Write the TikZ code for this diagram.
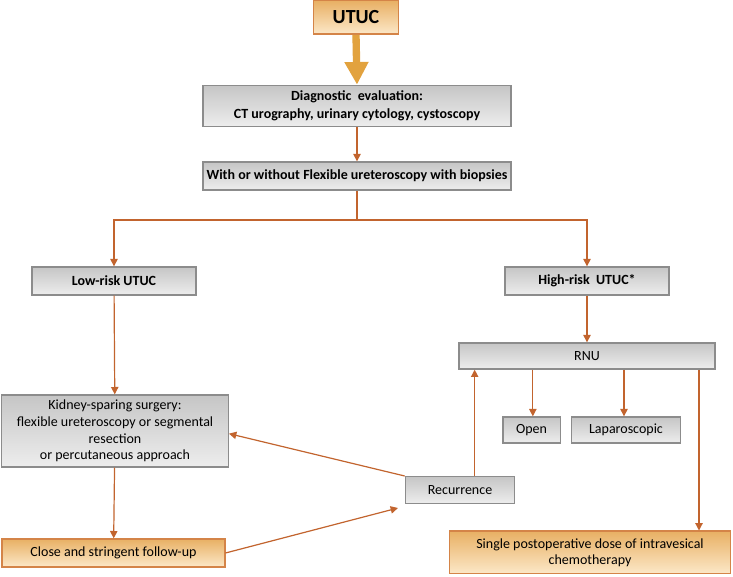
\documentclass[tikz,border=0pt]{standalone}
\usepackage{fontspec}
\setmainfont{Carlito}
\usepackage{tikz}
\usetikzlibrary{arrows.meta,positioning,calc}
\definecolor{UArrow}{RGB}{194,100,46}
\definecolor{UBig}{RGB}{226,162,62}
\definecolor{UOrgLine}{RGB}{212,132,72}
\definecolor{UOrgTop}{RGB}{232,176,100}
\definecolor{UOrgBot}{RGB}{252,232,200}
\definecolor{UGrayLine}{RGB}{140,140,140}

\tikzset{
  graybox/.style={draw=UGrayLine,line width=1pt,top color=gray!45,bottom color=gray!14,
    align=center,inner sep=1pt,font=\fontsize{10.5}{12.5}\selectfont},
  orgbox/.style={draw=UOrgLine,line width=1pt,top color=UOrgTop,bottom color=UOrgBot,
    align=center,inner sep=1pt,font=\fontsize{10.5}{12}\selectfont},
  link/.style={draw=UArrow,line width=0.9pt},
  arr/.style={link,-{Triangle[width=5.5pt,length=5.5pt]}},
  bfbox/.style={font=\fontsize{10.5}{13.5}\selectfont\bfseries},
}

\begin{document}
\begin{tikzpicture}[x=0.75pt,y=-0.75pt]
\useasboundingbox (0,0) rectangle (733,577);
% boxes
\node[orgbox,minimum width=64pt,minimum height=25pt,font=\fontsize{15}{17}\selectfont\bfseries] (utuc) at (356,17.5) {UTUC};
\node[graybox,bfbox,minimum width=231pt,minimum height=31pt] (diag) at (357,106) {Diagnostic\ \ evaluation:\\CT urography, urinary cytology, cystoscopy};
\node[graybox,bfbox,minimum width=231pt,minimum height=21pt] (flex) at (357,176) {With or without Flexible ureteroscopy with biopsies};
\node[graybox,bfbox,minimum width=123pt,minimum height=21pt] (low) at (114,281) {Low-risk UTUC};
\node[graybox,bfbox,minimum width=123pt,minimum height=21pt] (high) at (587,281) {High-risk\ \ UTUC*};
\node[graybox,minimum width=170pt,minimum height=54pt] (ksurg) at (115,431) {Kidney-sparing surgery:\\flexible ureteroscopy or segmental\\resection\\or percutaneous approach};
\node[graybox,minimum width=192pt,minimum height=19.5pt] (rnu) at (587,356) {RNU};
\node[graybox,minimum width=43pt,minimum height=19.5pt] (open) at (531.5,430) {Open};
\node[graybox,minimum width=82pt,minimum height=19.5pt] (lap) at (626,430) {Laparoscopic};
\node[graybox,minimum width=82pt,minimum height=20pt] (recur) at (460,490) {Recurrence};
\node[orgbox,minimum width=167pt,minimum height=21pt] (follow) at (113.5,553) {Close and stringent follow-up};
\node[orgbox,minimum width=211pt,minimum height=32pt] (chemo) at (590,552.5) {Single postoperative dose of intravesical\\chemotherapy};

% connectors
\draw[UBig,line width=5.5pt,-{Triangle[width=17pt,length=17pt]}] (utuc.south) -- (diag.north);
\draw[arr] (diag) -- (flex);
\coordinate (split) at (357,220);
\draw[link] (flex) -- (split);
\draw[arr] (split) -| (low);
\draw[arr] (split) -| (high);
\draw[arr] (low) -- (ksurg);
\draw[arr] (high) -- (rnu);
\draw[arr] ([xshift=1pt]open.north |- rnu.south) -- ([xshift=1pt]open.north);
\draw[arr] ([xshift=-1.5pt]lap.north |- rnu.south) -- ([xshift=-1.5pt]lap.north);
\draw[arr] ([xshift=84pt]rnu.south) -- ([xshift=84pt]rnu.south |- chemo.north);
\draw[arr] (ksurg) -- (follow);
\draw[arr] ([xshift=11pt]recur.north) -- ([xshift=11pt]recur.north |- rnu.south);
\draw[arr] (recur.north west) -- ([yshift=-2pt]ksurg.east);
\draw[arr] (follow.east) -- ([xshift=-5pt,yshift=-3pt]recur.south west);
\end{tikzpicture}
\end{document}
